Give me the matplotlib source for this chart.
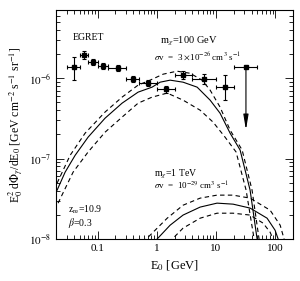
#!/usr/bin/env python3
"""EGRET extragalactic gamma-ray background vs. dark matter annihilation spectra."""

import matplotlib
matplotlib.use("Agg")
import matplotlib.pyplot as plt

plt.rcParams["font.family"] = ["Liberation Serif", "DejaVu Serif"]
plt.rcParams["mathtext.fontset"] = "stix"

# EGRET points: energy [GeV], bin edges, flux, flux error range
egret_e = [0.040, 0.060, 0.084, 0.124, 0.222, 0.40, 0.71, 1.44, 2.78, 6.3, 14.2]
egret_lo = [0.030, 0.050, 0.070, 0.100, 0.150, 0.30, 0.50, 1.00, 2.00, 4.0, 10.0]
egret_hi = [0.050, 0.070, 0.100, 0.150, 0.300, 0.50, 1.00, 2.00, 4.00, 10.0, 20.0]
egret_f = [1.37e-6, 1.93e-6, 1.58e-6, 1.41e-6, 1.33e-6, 0.97e-6, 0.87e-6, 0.73e-6, 1.09e-6, 0.97e-6, 0.77e-6]
egret_fmin = [0.94e-6, 1.72e-6, 1.45e-6, 1.30e-6, 1.22e-6, 0.90e-6, 0.80e-6, 0.66e-6, 0.98e-6, 0.85e-6, 0.53e-6]
egret_fmax = [1.82e-6, 2.15e-6, 1.72e-6, 1.53e-6, 1.45e-6, 1.05e-6, 0.95e-6, 0.80e-6, 1.22e-6, 1.12e-6, 1.09e-6]

# upper limit bin
ul_e, ul_lo, ul_hi, ul_f, ul_tip = 32.0, 20.0, 50.0, 1.37e-6, 2.1e-7

# m_x = 100 GeV, sigma v = 3e-26
m100_e = [0.0208, 0.0284, 0.0419, 0.0694, 0.134, 0.260, 0.484, 0.834, 1.14, 1.68, 2.78, 4.80, 7.95, 11.7, 17.3, 25.5, 37.6, 49.4, 52.0]
m100_f = [4.06e-8, 6.79e-8, 1.10e-7, 1.85e-7, 3.18e-7, 4.89e-7, 6.70e-7, 7.73e-7, 8.91e-7, 9.44e-7, 8.91e-7, 7.73e-7, 5.33e-7, 3.67e-7, 2.07e-7, 1.28e-7, 4.06e-8, 1.0e-8, 5e-9]
m100_up_e = [0.0208, 0.0345, 0.0617, 0.134, 0.260, 0.484, 0.773, 1.28, 2.20, 3.65, 5.82, 7.95, 11.7, 17.3, 27.6, 40.6, 53.3, 56.0]
m100_up_f = [4.97e-8, 1.10e-7, 2.07e-7, 3.79e-7, 5.81e-7, 8.19e-7, 9.44e-7, 1.12e-6, 1.22e-6, 1.15e-6, 9.44e-7, 7.10e-7, 4.37e-7, 2.26e-7, 1.28e-7, 4.06e-8, 1.0e-8, 5e-9]
m100_lo_e = [0.0216, 0.0387, 0.0694, 0.134, 0.260, 0.484, 0.834, 1.50, 2.78, 5.39, 8.93, 14.2, 21.8, 32.2, 44.0, 47.0]
m100_lo_f = [2.80e-8, 6.79e-8, 1.21e-7, 2.13e-7, 3.28e-7, 4.89e-7, 5.81e-7, 6.52e-7, 5.33e-7, 4.00e-7, 2.84e-7, 1.85e-7, 1.21e-7, 4.06e-8, 1.0e-8, 5e-9]

# m_x = 1 TeV, sigma v = 1e-29
m1t_e = [0.90, 1.01, 1.68, 2.78, 5.39, 10.4, 19.4, 37.6, 72.8, 99.3, 112, 120]
m1t_f = [9e-9, 1.0e-8, 1.49e-8, 1.99e-8, 2.50e-8, 2.80e-8, 2.72e-8, 2.43e-8, 1.82e-8, 1.29e-8, 1.0e-8, 9e-9]
m1t_up_e = [0.60, 0.66, 0.773, 1.50, 2.78, 5.39, 10.4, 19.4, 37.6, 81.8, 121, 141, 150]
m1t_up_f = [9e-9, 1.0e-8, 1.12e-8, 1.82e-8, 2.64e-8, 3.23e-8, 3.52e-8, 3.52e-8, 3.23e-8, 2.29e-8, 1.49e-8, 1.0e-8, 9e-9]
m1t_lo_e = [1.65, 1.82, 2.78, 5.39, 10.4, 19.4, 37.6, 62.3, 81.8, 91.9, 96.0]
m1t_lo_f = [9e-9, 1.0e-8, 1.37e-8, 1.82e-8, 2.10e-8, 2.10e-8, 1.99e-8, 1.58e-8, 1.22e-8, 1.0e-8, 9e-9]

DASH = (0, (4, 3))


def main():
    fig = plt.figure(figsize=(3.0, 2.81), dpi=100)
    ax = fig.add_axes([0.187, 0.149, 0.79, 0.815])

    for e, f, ls in [(m100_e, m100_f, "-"), (m100_up_e, m100_up_f, DASH), (m100_lo_e, m100_lo_f, DASH),
                     (m1t_e, m1t_f, "-"), (m1t_up_e, m1t_up_f, DASH), (m1t_lo_e, m1t_lo_f, DASH)]:
        ax.plot(e, f, color="black", lw=0.8, linestyle=ls)

    xerr = [[c - lo for c, lo in zip(egret_e, egret_lo)], [hi - c for c, hi in zip(egret_e, egret_hi)]]
    yerr = [[c - lo for c, lo in zip(egret_f, egret_fmin)], [hi - c for c, hi in zip(egret_f, egret_fmax)]]
    ax.errorbar(egret_e, egret_f, xerr=xerr, yerr=yerr, fmt="s", color="black", ms=2.5,
                elinewidth=0.8, capsize=1.5, capthick=0.8)

    ax.errorbar([ul_e], [ul_f], xerr=[[ul_e - ul_lo], [ul_hi - ul_e]], fmt="s", color="black",
                ms=2.5, elinewidth=0.8, capsize=1.5, capthick=0.8)
    ax.annotate("", xy=(ul_e, ul_tip), xytext=(ul_e, ul_f),
                arrowprops=dict(arrowstyle="-|>,head_width=0.15,head_length=0.9", color="black", lw=0.8))

    ax.set_xscale("log")
    ax.set_yscale("log")
    ax.set_xlim(0.02, 200)
    ax.set_ylim(1e-8, 7e-6)
    ax.set_xticks([0.1, 1, 10, 100])
    ax.set_xticklabels(["0.1", "1", "10", "100"])
    ax.set_yticks([1e-8, 1e-7, 1e-6])
    ax.set_yticklabels([r"$10^{-8}$", r"$10^{-7}$", r"$10^{-6}$"])
    ax.tick_params(which="both", direction="in", top=True, right=True, labelsize=8, width=0.6)
    ax.tick_params(which="major", length=6)
    ax.tick_params(which="minor", length=3)
    for s in ax.spines.values():
        s.set_linewidth(0.8)

    ax.set_xlabel(r"E$_0$ [GeV]", fontsize=9, labelpad=4)
    ax.set_ylabel(r"E$_0^2$ d$\Phi_\gamma$/dE$_0$ [GeV cm$^{-2}$ s$^{-1}$ sr$^{-1}$]", fontsize=8.5, labelpad=2)

    ax.text(0.07, 0.87, "EGRET", transform=ax.transAxes, fontsize=7)
    ax.text(0.44, 0.853, r"m$_\chi$=100 GeV", transform=ax.transAxes, fontsize=7.5)
    ax.text(0.415, 0.782, r"$\sigma$v  =  3 $\times$10$^{-26}$ cm$^3$ s$^{-1}$", transform=ax.transAxes, fontsize=6.5)
    ax.text(0.415, 0.275, r"m$_\chi$=1 TeV", transform=ax.transAxes, fontsize=7)
    ax.text(0.415, 0.215, r"$\sigma$v  =  10$^{-29}$ cm$^3$ s$^{-1}$", transform=ax.transAxes, fontsize=6.5)
    ax.text(0.05, 0.115, r"z$_{\rm re}$=10.9", transform=ax.transAxes, fontsize=7)
    ax.text(0.05, 0.058, r"$\beta$=0.3", transform=ax.transAxes, fontsize=7)

    fig.savefig("out.png", dpi=100)


if __name__ == "__main__":
    main()
